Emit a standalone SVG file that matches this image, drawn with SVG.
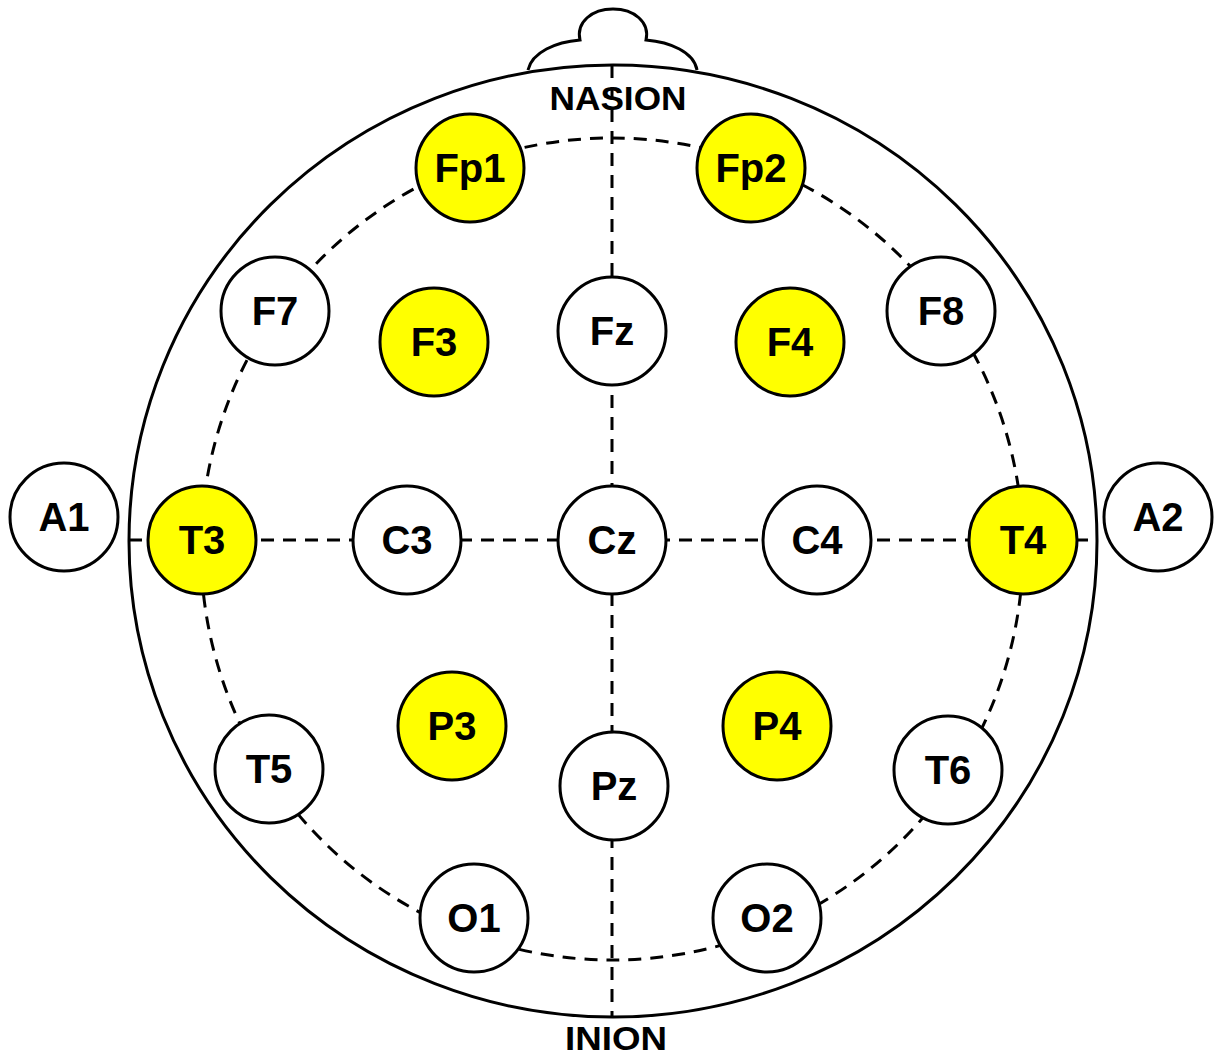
<svg xmlns="http://www.w3.org/2000/svg" width="1216" height="1056" viewBox="0 0 1216 1056">
  <style>
    .outline { fill: none; stroke: #000; stroke-width: 3; }
    .guide { fill: none; stroke: #000; stroke-width: 3; stroke-dasharray: 13 9; }
    .node circle { stroke: #000; stroke-width: 3; fill: #fff; }
    .node.active circle { fill: #ffff00; }
    text { font-family: "Liberation Sans", Arial, sans-serif; font-weight: bold; fill: #000; text-anchor: middle; }
    .lbl { font-size: 40px; }
    .mark { font-size: 34px; }
  </style>
  <rect width="1216" height="1056" fill="#fff"/>

  <!-- head outline with nose -->
  <g id="head">
    <path class="outline" d="M528,70 C532,52 556,42 580,40 C576,22 592,9 613,9 C634,9 650,22 646,40 C670,42 694,52 697,70"/>
    <ellipse class="outline" cx="613" cy="541" rx="484" ry="476"/>
  </g>

  <!-- dashed reference lines -->
  <g id="connectors">
    <circle class="guide" cx="612" cy="549" r="411"/>
    <line class="guide" x1="129" y1="540" x2="1097" y2="540"/>
    <line class="guide" x1="612" y1="65" x2="612" y2="1017"/>
  </g>

  <text class="mark" x="618" y="110" textLength="137" lengthAdjust="spacingAndGlyphs">NASION</text>
  <text class="mark" x="616" y="1050" textLength="102" lengthAdjust="spacingAndGlyphs">INION</text>

  <!-- electrodes -->
  <g id="A1" class="node"><circle cx="64" cy="517" r="54"/><text class="lbl" x="64" y="531">A1</text></g>
  <g id="A2" class="node"><circle cx="1158" cy="517" r="54"/><text class="lbl" x="1158" y="531">A2</text></g>
  <g id="Fp1" class="node active"><circle cx="470" cy="168" r="54"/><text class="lbl" x="470" y="182">Fp1</text></g>
  <g id="Fp2" class="node active"><circle cx="751" cy="168" r="54"/><text class="lbl" x="751" y="182">Fp2</text></g>
  <g id="F7" class="node"><circle cx="275" cy="311" r="54"/><text class="lbl" x="275" y="325">F7</text></g>
  <g id="F3" class="node active"><circle cx="434" cy="342" r="54"/><text class="lbl" x="434" y="356">F3</text></g>
  <g id="Fz" class="node"><circle cx="612" cy="331" r="54"/><text class="lbl" x="612" y="345">Fz</text></g>
  <g id="F4" class="node active"><circle cx="790" cy="342" r="54"/><text class="lbl" x="790" y="356">F4</text></g>
  <g id="F8" class="node"><circle cx="941" cy="311" r="54"/><text class="lbl" x="941" y="325">F8</text></g>
  <g id="T3" class="node active"><circle cx="202" cy="540" r="54"/><text class="lbl" x="202" y="554">T3</text></g>
  <g id="C3" class="node"><circle cx="407" cy="540" r="54"/><text class="lbl" x="407" y="554">C3</text></g>
  <g id="Cz" class="node"><circle cx="612" cy="540" r="54"/><text class="lbl" x="612" y="554">Cz</text></g>
  <g id="C4" class="node"><circle cx="817" cy="540" r="54"/><text class="lbl" x="817" y="554">C4</text></g>
  <g id="T4" class="node active"><circle cx="1023" cy="540" r="54"/><text class="lbl" x="1023" y="554">T4</text></g>
  <g id="T5" class="node"><circle cx="269" cy="769" r="54"/><text class="lbl" x="269" y="783">T5</text></g>
  <g id="P3" class="node active"><circle cx="452" cy="726" r="54"/><text class="lbl" x="452" y="740">P3</text></g>
  <g id="Pz" class="node"><circle cx="614" cy="786" r="54"/><text class="lbl" x="614" y="800">Pz</text></g>
  <g id="P4" class="node active"><circle cx="777" cy="726" r="54"/><text class="lbl" x="777" y="740">P4</text></g>
  <g id="T6" class="node"><circle cx="948" cy="770" r="54"/><text class="lbl" x="948" y="784">T6</text></g>
  <g id="O1" class="node"><circle cx="474" cy="918" r="54"/><text class="lbl" x="474" y="932">O1</text></g>
  <g id="O2" class="node"><circle cx="767" cy="918" r="54"/><text class="lbl" x="767" y="932">O2</text></g>
</svg>
